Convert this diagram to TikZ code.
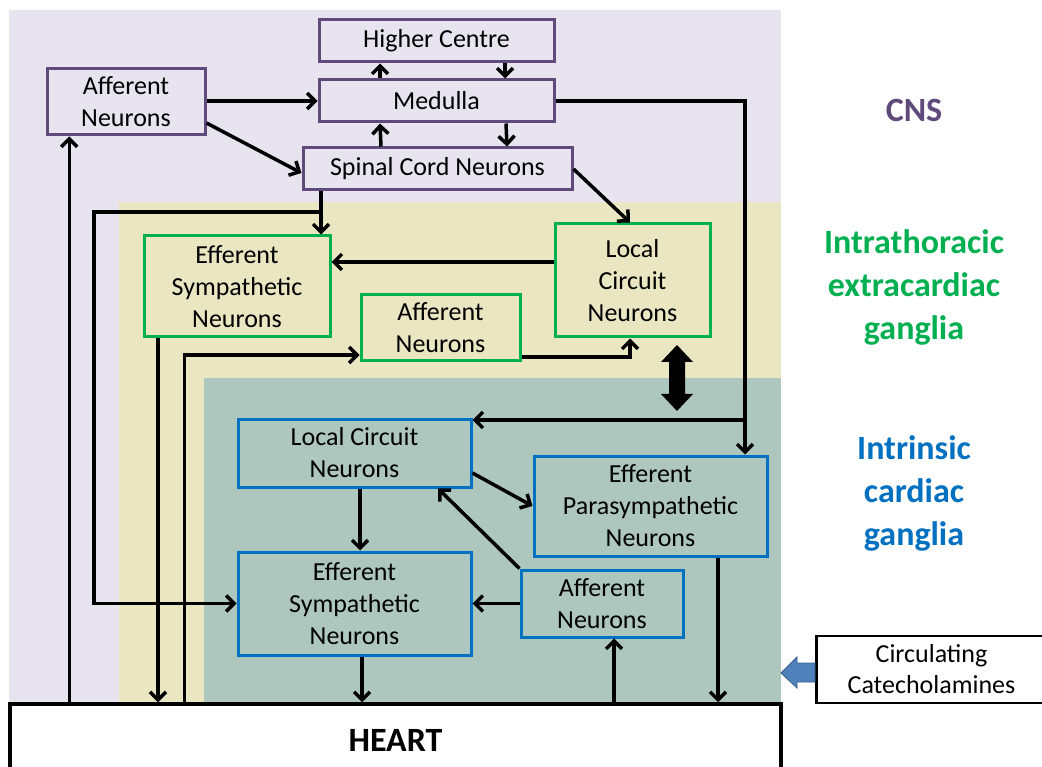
\documentclass[tikz,border=0pt]{standalone}
\usepackage{fontspec}
\setmainfont{Carlito}
\usetikzlibrary{arrows.meta}

\definecolor{cnsbg}{RGB}{231,228,239}
\definecolor{itbg}{RGB}{234,230,194}
\definecolor{icbg}{RGB}{174,199,190}
\definecolor{cnsline}{RGB}{96,74,123}
\definecolor{itline}{RGB}{0,176,80}
\definecolor{icline}{RGB}{0,112,192}
\definecolor{blockblue}{RGB}{79,129,189}
\definecolor{blockedge}{RGB}{56,93,138}

\tikzset{
  box/.style={draw, line width=3pt, inner sep=0pt, align=center,
    font=\fontsize{26}{32}\selectfont},
  cnsbox/.style={box, draw=cnsline, fill=cnsbg},
  itbox/.style={box, draw=itline, fill=itbg},
  icbox/.style={box, draw=icline, fill=icbg},
  arr/.style={line width=3.5pt, -{Straight Barb[length=8pt,width=16pt]}},
  zonelabel/.style={align=center, font=\fontsize{34}{43}\selectfont\bfseries},
}

\begin{document}
\begin{tikzpicture}[x=1pt,y=-1pt]
\useasboundingbox (0,0) rectangle (1042,767);
\clip (0,0) rectangle (1042,767);

% nested regions: CNS, intrathoracic extracardiac, intrinsic cardiac
\fill[cnsbg] (9,10) rectangle (781,704);
\fill[itbg] (119,202) rectangle (781,704);
\fill[icbg] (204,378) rectangle (781,704);

% CNS
\node[cnsbox, minimum width=235pt, minimum height=42pt] (hc) at (436.5,41) {Higher Centre};
\node[cnsbox, minimum width=235pt, minimum height=42pt] (med) at (436.5,101) {Medulla};
\node[cnsbox, minimum width=158pt, minimum height=66pt] (affC) at (126,102) {Afferent\\Neurons};
\node[cnsbox, minimum width=269pt, minimum height=42pt] (spc) at (437.5,169) {Spinal Cord Neurons};

% intrathoracic extracardiac ganglia
\node[itbox, minimum width=186pt, minimum height=101pt] (esG) at (237,286.5) {Efferent\\Sympathetic\\Neurons};
\node[itbox, minimum width=155pt, minimum height=113pt] (lcG) at (632.5,280.5) {Local\\Circuit\\Neurons};
\node[itbox, minimum width=159pt, minimum height=66pt] (afG) at (440.5,328) {Afferent\\Neurons};

% intrinsic cardiac ganglia
\node[icbox, minimum width=233pt, minimum height=68pt] (lcB) at (354.5,453) {Local Circuit\\Neurons};
\node[icbox, minimum width=233pt, minimum height=100pt] (epB) at (650.5,506) {Efferent\\Parasympathetic\\Neurons};
\node[icbox, minimum width=233pt, minimum height=103pt] (esB) at (354.5,603.5) {Efferent\\Sympathetic\\Neurons};
\node[icbox, minimum width=162pt, minimum height=67pt] (afB) at (602,603.5) {Afferent\\Neurons};

% heart and circulating catecholamines
\node[draw, line width=3.5pt, fill=white, inner sep=0pt, minimum width=771pt, minimum height=72pt,
      font=\fontsize{34}{40}\selectfont\bfseries] (heart) at (395.5,740) {HEART};
\node[draw, line width=2.5pt, fill=white, inner sep=0pt, align=center, minimum width=230pt, minimum height=67pt,
      font=\fontsize{26}{31}\selectfont] (circ) at (931.5,669.5) {Circulating\\Catecholamines};

% zone labels
\node[zonelabel, text=cnsline] (lCNS) at (914,110) {CNS};
\node[zonelabel, text=itline] (lIT) at (914,287) {Intrathoracic\\extracardiac\\ganglia};
\node[zonelabel, text=icline] (lIC) at (914,493) {Intrinsic\\cardiac\\ganglia};

% CNS connections
\draw[arr] ([xshift=-56.5pt]med.north) -- ([xshift=-56.5pt]hc.south);
\draw[arr] ([xshift=68.5pt]hc.south) -- ([xshift=68.5pt]med.north);
\draw[arr] ([xshift=-56.5pt]spc.north) -- ([xshift=-56.5pt]med.south);
\draw[arr] ([xshift=69.5pt]med.south) -- ([xshift=69.5pt]spc.north);
\draw[arr] (affC.east |- med.west) -- (med.west);
\draw[arr] ([yshift=-21pt]affC.east) -- ([yshift=-4pt]spc.west);

% medulla to intrinsic ganglia
\coordinate (jn) at (745,420);
\draw[arr] (med.east) -| ([xshift=94.5pt]epB.north);
\draw[arr] (jn) -- (jn -| lcB.east);

% spinal cord outputs
\draw[arr] (spc.east) -- ([xshift=-2.5pt]lcG.north);
\coordinate (jb) at (321,212);
\coordinate (lb) at (94,212);
\draw[arr] ([xshift=-116.5pt]spc.south) -- ([xshift=-116.5pt]spc.south |- esG.north);
\draw[arr] (jb) -- (lb) |- (esB.west);

% intrathoracic connections
\draw[arr] ([yshift=18.5pt]lcG.west) -- ([yshift=18.5pt]lcG.west -| esG.east);
\draw[arr] ([yshift=-29pt]afG.east) -| ([xshift=-2.5pt]lcG.south);
\draw[arr] ([xshift=-79pt]esG.south) -- ([xshift=-79pt]esG.south |- heart.north);
\draw[arr] ([xshift=176pt]heart.north west) |- ([yshift=-27pt]afG.west);
\draw[arr] ([xshift=61pt]heart.north west) -- ([xshift=61pt]heart.north west |- affC.south);

% intrinsic connections
\draw[arr] ([xshift=5.5pt]lcB.south) -- ([xshift=5.5pt]lcB.south |- esB.north);
\draw[arr] ([yshift=-20pt]lcB.east) -- (epB.west);
\draw[arr] (afB.north west) -- ([xshift=-34.5pt]lcB.south east);
\draw[arr] (afB.west) -- (esB.east);
\draw[arr] ([xshift=7.5pt]esB.south) -- ([xshift=7.5pt]esB.south |- heart.north);
\draw[arr] ([xshift=12pt]afB.south |- heart.north) -- ([xshift=12pt]afB.south);
\draw[arr] ([xshift=67.5pt]epB.south) -- ([xshift=67.5pt]epB.south |- heart.north);

% two-way exchange between extracardiac and intrinsic ganglia
\fill[black] (677,345) -- (693,362) -- (685,362) -- (685,394) -- (693,394) -- (677,411)
  -- (661,394) -- (669,394) -- (669,362) -- (661,362) -- cycle;

% catecholamine input to the heart
\filldraw[fill=blockblue, draw=blockedge, line width=0.8pt]
  (781,673) -- (797,657) -- (797,663) -- (815,663) -- (815,682) -- (797,682) -- (797,688) -- cycle;
\end{tikzpicture}
\end{document}
